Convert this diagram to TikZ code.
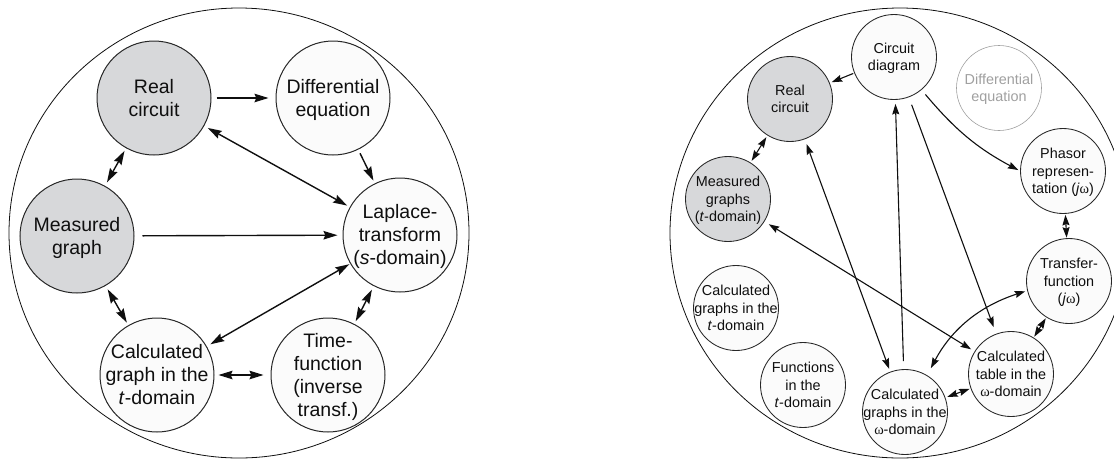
\documentclass[tikz,border=0pt]{standalone}
\usepackage{fontspec}
\setmainfont{Liberation Sans}
\newfontfamily\omfont{Liberation Serif}
\usetikzlibrary{arrows.meta}
\definecolor{ngray}{RGB}{215,216,218}
\definecolor{nwhite}{RGB}{251,251,251}
\definecolor{ink}{RGB}{15,15,15}
\definecolor{faintc}{RGB}{160,160,160}
\newcommand{\om}{{\omfont ω}}
\newcommand{\ctx}[1]{\makebox[0pt]{\smash{\raisebox{-0.37em}{\begin{tabular}{@{}c@{}}#1\end{tabular}}}}}
\tikzset{
  bigc/.style={draw=ink, line width=0.8pt},
  lnode/.style={circle, draw=ink!90, line width=1.0pt, fill=nwhite, text=ink,
    minimum size=114pt, inner sep=0pt, font=\fontsize{19.5}{23}\selectfont},
  lgray/.style={lnode, fill=ngray},
  rnode/.style={circle, draw=ink!90, line width=0.85pt, fill=nwhite, text=ink,
    minimum size=85pt, inner sep=0pt, font=\fontsize{14.4}{17.3}\selectfont},
  rgray/.style={rnode, fill=ngray},
  rfaint/.style={rnode, draw=faintc, fill=white, text=faintc, line width=0.6pt},
  ltip/.tip={Stealth[length=14pt,width=8.5pt,inset=1.8pt]},
  rtip/.tip={Stealth[length=10.5pt,width=7pt,inset=1.4pt]},
  la/.style={draw=ink, line width=1.4pt, -ltip, shorten <=4pt, shorten >=3pt},
  lda/.style={la, ltip-ltip},
  ra/.style={draw=ink, line width=1.1pt, -rtip, shorten <=3pt, shorten >=2pt},
  rda/.style={ra, rtip-rtip},
}
\begin{document}
\begin{tikzpicture}[x=1pt,y=-1pt]
\clip (0,0) rectangle (1114,459);
% outer circles
\draw[bigc] (239,233) ellipse [x radius=230pt, y radius=225pt];
\draw[bigc] (900,233) ellipse [x radius=230pt, y radius=225pt];

% ---------- left diagram ----------
\node[lgray] (rc) at (154,98) {\ctx{Real\\circuit}};
\node[lnode] (de) at (333,98) {\ctx{Differential\\equation}};
\node[lgray] (mg) at (77,236) {\ctx{Measured\\graph}};
\node[lnode] (lt) at (400,235) {\ctx{Laplace-\\transform\\(\textit{s}-domain)}};
\node[lnode] (cg) at (157,375) {\ctx{Calculated\\graph in the\\\textit{t}-domain}};
\node[lnode] (tf) at (328,375) {\ctx{Time-\\function\\(inverse\\transf.)}};

\draw[la, shorten <=5pt, shorten >=7pt] (rc) -- (de);
\draw[lda] (rc) -- (lt);
\draw[la] (de) -- (lt);
\draw[lda] (mg) -- (rc);
\draw[la, shorten <=8pt, shorten >=5pt] (mg) -- (lt);
\draw[lda] (mg) -- (cg);
\draw[lda, shorten >=1pt] (cg) -- (lt);
\draw[lda] (lt) -- (tf);
\draw[lda, shorten <=4pt, shorten >=7pt] (cg) -- (tf);

% ---------- right diagram ----------
\node[rnode] (cd) at (894,57) {\ctx{Circuit\\diagram}};
\node[rfaint] (rde) at (999,88) {\ctx{Differential\\equation}};
\node[rgray] (rrc) at (790,99) {\ctx{Real\\circuit}};
\node[rgray] (rmg) at (728,199) {\ctx{Measured\\graphs\\(\textit{t}-domain)}};
\node[rnode] (ph) at (1063,171) {\ctx{Phasor\\represen-\\tation (\textit{j}\om)}};
\node[rnode] (tr) at (1069,281) {\ctx{Transfer-\\function\\(\textit{j}\om)}};
\node[rnode] (cgt) at (736,308) {\ctx{Calculated\\graphs in the\\\textit{t}-domain}};
\node[rnode] (ft) at (803,385) {\ctx{Functions\\in the\\\textit{t}-domain}};
\node[rnode] (cgw) at (905,412) {\ctx{Calculated\\graphs in the\\\om-domain}};
\node[rnode] (ctw) at (1011,374) {\ctx{Calculated\\table in the\\\om-domain}};

\draw[ra, shorten <=1pt, shorten >=2pt] (cd) -- (rrc);
\draw[rda, shorten <=2pt, shorten >=2pt] (rrc) -- (rmg);
\draw[ra, shorten <=6pt, shorten >=2pt] (cd.-50) to[out=-50, in=152] (ph.west);
\draw[rda, shorten <=1pt, shorten >=0.5pt] (ph) -- (tr);
\draw[rda, shorten <=1pt, shorten >=1pt] (tr) -- (ctw);
\draw[rda, shorten <=1pt, shorten >=2pt] (ctw) -- (cgw);
\draw[rda, shorten <=2pt, shorten >=8pt] (tr.193) to[out=-162, in=62] (cgw.59);
\draw[ra, shorten <=8pt, shorten >=4pt] (cgw) -- (cd);
\draw[ra, shorten <=8pt, shorten >=7pt] (cd) -- (ctw);
\draw[rda, shorten <=5pt, shorten >=3pt] (rrc) -- (cgw);
\draw[rda, shorten <=5pt, shorten >=4pt] (rmg) -- (ctw);
\end{tikzpicture}
\end{document}
